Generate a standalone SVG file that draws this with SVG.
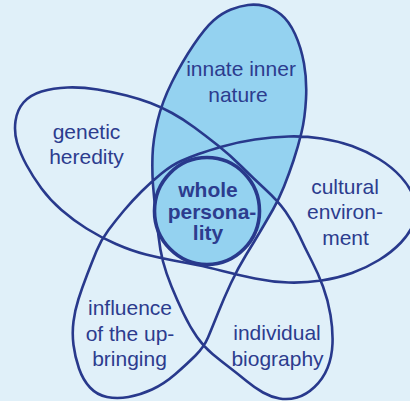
<svg xmlns="http://www.w3.org/2000/svg" width="410" height="401" viewBox="0 0 410 401">
<style>
.bg{fill:#e0f0f9}
.line{fill:none;stroke:#28398c;stroke-width:2.6;stroke-linejoin:round}
.lobe{fill:#94d2f0;stroke:none}
.core{fill:#94d2f0;stroke:#28398c;stroke-width:3.6}
.lbl{font-family:"Liberation Sans",Arial,Helvetica,sans-serif;font-size:21px;fill:#2c3c8e;text-anchor:middle}
.bold{font-weight:bold;font-size:21px}
</style>
<rect class="bg" x="0" y="0" width="410" height="401"/>
<g id="lobe-fill">
<path class="lobe" d="M 155.5,210 Q 154,198 153,185 Q 152,172 152.5,156 Q 153,140 157.5,121 Q 162,102 172,82 Q 182,62 193.5,45 Q 205,28 213.5,20.5 Q 222,13 231,9.5 Q 240,6 248,5 Q 256,4 264.5,6 Q 273,8 281,14.5 Q 289,21 295,34 Q 301,47 304,63.5 Q 307,80 306,99 Q 305,118 301.5,132.5 Q 298,147 293.5,160.5 Q 289,174 284,186.5 Q 279,199 273,209.5 Q 267,220 260.5,231 L 215,230 Z"/>
</g>
<g id="connectors">
<path class="line" d="M 231,9.5 Q 240,6 248,5 Q 256,4 264.5,6 Q 273,8 281,14.5 Q 289,21 295,34 Q 301,47 304,63.5 Q 307,80 306,99 Q 305,118 301.5,132.5 Q 298,147 293.5,160.5 Q 289,174 284,186.5 Q 279,199 273,209.5 Q 267,220 260.5,231 Q 254,242 246,255 Q 238,268 231,283 Q 224,298 218,313 Q 212,328 208,337.5 Q 204,347 195.5,355.5 Q 187,364 175.5,374 Q 164,384 152,389.5 Q 140,395 128.5,397 Q 117,399 107,397 Q 97,395 90,387.5 Q 83,380 79,368.5 Q 75,357 73.5,345 Q 72,333 73.5,321.5 Q 75,310 78.5,299 Q 82,288 87,275 Q 92,262 96.5,251 Q 101,240 108.5,230 Q 116,220 124,210.5 Q 132,201 141.5,191.5 Q 151,182 161.5,173.5 Q 172,165 181,161 Q 190,157 198.5,154 Q 207,151 222.5,146.5 Q 238,142 255,139.5 Q 272,137 288.5,136.5 Q 305,136 321.5,138.5 Q 338,141 352,146 Q 366,151 379,159 Q 392,167 401,177 Q 410,187 414.5,198.5 Q 419,210 414.5,221.5 Q 410,233 401,242.5 Q 392,252 379,260 Q 366,268 352,273 Q 338,278 321.5,280.5 Q 305,283 288.5,282.5 Q 272,282 255,278.5 Q 238,275 222.5,271 Q 207,267 197,265 Q 187,263 173.5,260.5 Q 160,258 146,254.5 Q 132,251 116,244 Q 100,237 86.5,228.5 Q 73,220 61.5,210 Q 50,200 41.5,188.5 Q 33,177 26.5,165 Q 20,153 17,142.5 Q 14,132 15.5,121 Q 17,110 23.5,102.5 Q 30,95 41.5,91.5 Q 53,88 67.5,87.5 Q 82,87 97.5,89.5 Q 113,92 126.5,95.5 Q 140,99 150.5,103 Q 161,107 172,113 Q 183,119 194.5,127.5 Q 206,136 218,145.5 Q 230,155 241.5,166.5 Q 253,178 265.5,189.5 Q 278,201 285.5,211.5 Q 293,222 299,235 Q 305,248 311.5,260.5 Q 318,273 323,286.5 Q 328,300 330.5,315 Q 333,330 332.5,343.5 Q 332,357 327.5,368 Q 323,379 314.5,387 Q 306,395 297,397.5 Q 288,400 279.5,398.5 Q 271,397 263,392.5 Q 255,388 246.5,381 Q 238,374 229.5,367.5 Q 221,361 212.5,354 Q 204,347 197,337 Q 190,327 183.5,313.5 Q 177,300 171.5,286.5 Q 166,273 163,261.5 Q 160,250 158.5,236 Q 157,222 155.5,210 Q 154,198 153,185 Q 152,172 152.5,156 Q 153,140 157.5,121 Q 162,102 172,82 Q 182,62 193.5,45 Q 205,28 213.5,20.5 Q 222,13 231,9.5 Z"/>
</g>
<g id="node-center">
<ellipse class="core" cx="207" cy="211" rx="52.5" ry="53.5"/>
<text class="lbl bold" x="208" y="196.5">whole</text>
<text class="lbl bold" x="212" y="218.5">persona-</text>
<text class="lbl bold" x="208" y="240">lity</text>
</g>
<g id="node-innate">
<text class="lbl" x="241" y="76">innate inner</text>
<text class="lbl" x="238" y="102">nature</text>
</g>
<g id="node-genetic">
<text class="lbl" x="86.5" y="139">genetic</text>
<text class="lbl" x="86.5" y="164">heredity</text>
</g>
<g id="node-cultural">
<text class="lbl" x="345" y="193.5">cultural</text>
<text class="lbl" x="345" y="218.5">environ-</text>
<text class="lbl" x="345.5" y="245">ment</text>
</g>
<g id="node-upbringing">
<text class="lbl" x="130" y="315">influence</text>
<text class="lbl" x="130" y="341">of the up-</text>
<text class="lbl" x="129.5" y="366">bringing</text>
</g>
<g id="node-biography">
<text class="lbl" x="277" y="340">individual</text>
<text class="lbl" x="277.5" y="366">biography</text>
</g>
</svg>
